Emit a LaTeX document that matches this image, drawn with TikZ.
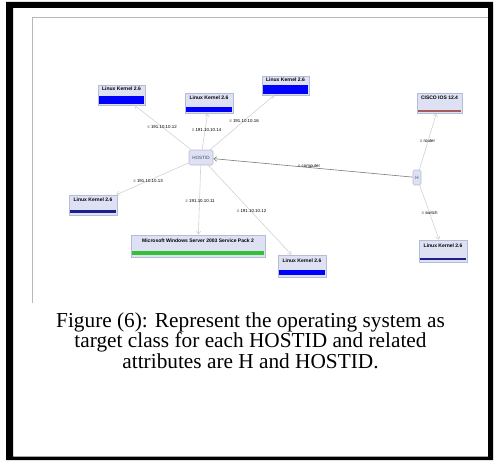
\documentclass[tikz,border=0pt]{standalone}
\usepackage{fontspec}
\setmainfont{Liberation Serif}
\setsansfont{Liberation Sans}
\usetikzlibrary{arrows.meta}
\definecolor{boxfill}{HTML}{DDE1F3}
\definecolor{boxline}{HTML}{B4BCD6}
\definecolor{edgegray}{HTML}{D2D2D2}
\definecolor{darkedge}{HTML}{7A7A7A}
\definecolor{navybar}{HTML}{1E1E8C}
\definecolor{ciscobar}{HTML}{A65A5A}
\definecolor{msgreen}{HTML}{33C233}
\definecolor{idtext}{HTML}{404868}
\definecolor{framegray}{HTML}{B8B8B8}
\tikzset{
  osbox/.style={draw=boxline, fill=boxfill, line width=0.6pt, inner sep=0pt},
  idbox/.style={draw=boxline, fill=boxfill, line width=0.6pt, rounded corners=1.5pt, inner sep=0pt, font=\sffamily\fontsize{4.6}{5}\selectfont, text=idtext},
  ostext/.style={font=\sffamily\bfseries\fontsize{5}{6}\selectfont, inner sep=0.5pt, anchor=north},
  elabel/.style={font=\sffamily\fontsize{4.4}{5}\selectfont, inner sep=0.5pt, text=black},
  link/.style={draw=edgegray, line width=0.6pt, -{Straight Barb[length=3pt,width=4.5pt]}},
  mainlink/.style={draw=darkedge, line width=0.6pt, -{Straight Barb[length=3pt,width=4.5pt]}},
  caption/.style={font=\fontsize{21.3}{19.3}\selectfont, align=center, inner sep=0pt}
}
\begin{document}
\begin{tikzpicture}[x=1pt,y=-1pt]
\useasboundingbox (0,0) rectangle (494,460);
% outer black frame
\fill[black, even odd rule] (6,2) rectangle (493,460) (13,8) rectangle (488,456.5);
% screenshot border lines
\draw[framegray, line width=0.8pt] (32.5,303) -- (32.5,17) -- (488,17);

% nodes
\node[osbox, minimum width=47pt, minimum height=20pt] (a1) at (121.5,95) {};
\node[osbox, minimum width=48pt, minimum height=20pt] (a2) at (209,103) {};
\node[osbox, minimum width=47pt, minimum height=19pt] (a3) at (285.5,85.5) {};
\node[osbox, minimum width=45pt, minimum height=20pt] (cisco) at (439.5,103) {};
\node[osbox, minimum width=48pt, minimum height=20pt] (a4) at (93,205) {};
\node[osbox, minimum width=134pt, minimum height=22pt] (ms) at (198,246) {};
\node[osbox, minimum width=48pt, minimum height=22pt] (a5) at (302,266) {};
\node[osbox, minimum width=48pt, minimum height=22pt] (a6) at (443,251) {};
\node[idbox, minimum width=24pt, minimum height=15pt] (hostid) at (201,157.5) {HOSTID};
\node[idbox, minimum width=8pt, minimum height=15pt] (h) at (417,177.5) {H};

% node titles
\node[ostext] (a1t) at ([yshift=-1.5pt]a1.north) {Linux Kernel 2.6};
\node[ostext] (a2t) at ([yshift=-2pt]a2.north) {Linux Kernel 2.6};
\node[ostext] (a3t) at ([yshift=-1.5pt]a3.north) {Linux Kernel 2.6};
\node[ostext] (ciscot) at ([yshift=-2.5pt]cisco.north) {CISCO IOS 12.4};
\node[ostext] (a4t) at ([yshift=-2pt]a4.north) {Linux Kernel 2.6};
\node[ostext] (mst) at ([yshift=-3pt]ms.north) {Microsoft Windows Server 2003 Service Pack 2};
\node[ostext] (a5t) at ([yshift=-3pt]a5.north) {Linux Kernel 2.6};
\node[ostext] (a6t) at ([yshift=-3pt]a6.north) {Linux Kernel 2.6};

% colour bars
\fill[blue] (99,96) rectangle (144,104);
\fill[blue] (186,107) rectangle (232,112);
\fill[blue] (263,85) rectangle (308,94);
\fill[ciscobar] (418,109.5) rectangle (461,111.5);
\fill[navybar] (70,210) rectangle (116,213);
\fill[msgreen] (132,251) rectangle (264,255);
\fill[blue] (279,270) rectangle (325,275);
\fill[navybar] (420,257.5) rectangle (466,260);

% connectors
\draw[link] (hostid) -- (a1);
\draw[link] (hostid) -- (a2);
\draw[link] (hostid) -- (a3);
\draw[link] (hostid) -- (a4);
\draw[link] (hostid) -- (ms);
\draw[link] (hostid) -- (a5);
\draw[mainlink] (h) -- (hostid);
\draw[link] (h) -- (cisco);
\draw[link] (h) -- (a6);

% connector labels
\node[elabel] (l1) at (162,127) {= 191.10.10.12};
\node[elabel] (l2) at (206.5,130) {= 191.10.10.14};
\node[elabel] (l3) at (244,121) {= 191.10.10.16};
\node[elabel] (l4) at (148,181) {= 191.10.10.13};
\node[elabel] (l5) at (200,201) {= 191.10.10.11};
\node[elabel] (l6) at (251.5,211) {= 191.10.10.12};
\node[elabel] (l7) at (309,167) {= computer};
\node[elabel] (l8) at (427.5,141) {= router};
\node[elabel] (l9) at (429.5,213) {= switch};

% caption
\node[caption, anchor=base] (cap) at (250.5,368) {Figure (6): Represent the operating system as\\target class for each HOSTID and related\\attributes are H and HOSTID.};
\end{tikzpicture}
\end{document}
